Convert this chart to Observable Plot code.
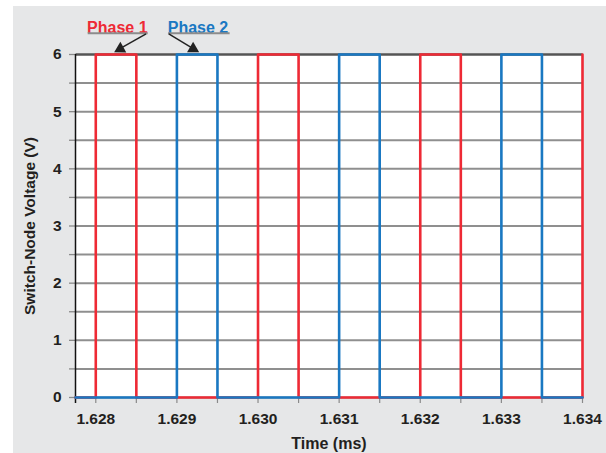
<!DOCTYPE html>
<html>
<head>
<meta charset="utf-8">
<script src="https://cdn.jsdelivr.net/npm/d3@7"></script>
<script src="https://cdn.jsdelivr.net/npm/@observablehq/plot@0.6"></script>
<style>
  html, body { margin: 0; padding: 0; background: #ffffff; }
  #panel { position: absolute; left: 13px; top: 6px; width: 593px; height: 447px; background: #e6e7e8; overflow: hidden; }
</style>
</head>
<body>
<div id="panel"></div>
<script>
// ---- data ----
const xDomain = [1.62775, 1.634];
const yDomain = [0, 6];
const xTickLabels = [1.628, 1.629, 1.630, 1.631, 1.632, 1.633, 1.634];
const xMinorTicks = [1.628, 1.6285, 1.629, 1.6295, 1.630, 1.6305, 1.631, 1.6315, 1.632, 1.6325, 1.633, 1.6335, 1.634];
const yTickLabels = [0, 1, 2, 3, 4, 5, 6];
const yMinorTicks = [0, 0.5, 1, 1.5, 2, 2.5, 3, 3.5, 4, 4.5, 5, 5.5, 6];
const yGridLines = [0.5, 1, 1.5, 2, 2.5, 3, 3.5, 4, 4.5, 5, 5.5];

// Phase 1 switch node (step-after levels)
const phase1Time  = [1.62775, 1.628, 1.6285, 1.630, 1.6305, 1.632, 1.6325, 1.634];
const phase1Volts = [0,       6,     0,      6,     0,      6,     0,      6];
// Phase 2 switch node
const phase2Time  = [1.62775, 1.629, 1.6295, 1.631, 1.6315, 1.633, 1.6335, 1.634];
const phase2Volts = [0,       6,     0,      6,     0,      6,     0,      0];

// annotation labels (data coordinates)
const labelNames = ["Phase 1", "Phase 2"];
const labelColors = ["#ee2a35", "#1a78c2"];
const labelX = [1.628265, 1.62926];
const labelY = [6.47, 6.47];
const underlineX1 = [1.62790, 1.62889];
const underlineX2 = [1.62864, 1.62965];
const underlineY = [6.37, 6.37];
const arrowX1 = [1.62862, 1.62890];
const arrowY1 = [6.36, 6.36];
const arrowX2 = [1.62832, 1.62918];
const arrowY2 = [6.12, 6.12];
const headX = [1.628302, 1.62920];
const headY = [6.10, 6.10];
const headAngle = [-119, 120];

const p1 = phase1Time.map((t, i) => ({t, v: phase1Volts[i]}));
const p2 = phase2Time.map((t, i) => ({t, v: phase2Volts[i]}));
const grid = yGridLines.map(v => ({v}));
const labels = labelNames.map((name, i) => ({
  name, color: labelColors[i], x: labelX[i], y: labelY[i],
  ux1: underlineX1[i], ux2: underlineX2[i], uy: underlineY[i],
  ax1: arrowX1[i], ay1: arrowY1[i], ax2: arrowX2[i], ay2: arrowY2[i],
  hx: headX[i], hy: headY[i], ha: headAngle[i]
}));

const RED = "#ee2a35", BLUE = "#1a78c2", TEXT = "#231f20";

const chart = Plot.plot({
  width: 593,
  height: 447,
  marginLeft: 62,
  marginTop: 48,
  marginRight: 24,
  marginBottom: 56,
  style: {
    fontFamily: "'Liberation Sans', Arial, sans-serif",
    fontSize: "15px",
    fontWeight: "bold",
    color: TEXT,
    background: "transparent",
    overflow: "visible"
  },
  x: { domain: xDomain, label: null },
  y: { domain: yDomain, label: null },
  marks: [
    Plot.frame({ fill: "white", stroke: null }),
    // horizontal grid
    Plot.link(grid, { x1: () => xDomain[0], x2: () => xDomain[1], y1: "v", y2: "v",
                      stroke: "#8f8f8f", strokeWidth: 2 }),
    Plot.link([6], { x1: () => xDomain[0], x2: () => xDomain[1], y1: d => d, y2: d => d,
                     stroke: "#555555", strokeWidth: 2.4 }),
    Plot.link([0], { x1: () => xDomain[0], x2: () => xDomain[1], y1: d => d, y2: d => d,
                     stroke: "#333333", strokeWidth: 1.5 }),
    // y tick marks
    Plot.axisY({ ticks: yMinorTicks, tickSize: 6, tickFormat: () => "", stroke: "#8a8a8a", strokeWidth: 1.3, label: null }),
    // x tick marks and labels
    Plot.axisX({ ticks: xMinorTicks, tickSize: 6, tickFormat: () => "", stroke: "#8a8a8a", strokeWidth: 1.2, label: null }),
    Plot.axisX({ ticks: xTickLabels, tickSize: 0, tickPadding: 15, tickFormat: d3.format(".3f"), fontSize: 15.5, label: null }),
    Plot.axisY({ ticks: yTickLabels, tickSize: 0, tickPadding: 14, tickFormat: d => String(d), fontSize: 15.5,
                 label: "Switch-Node Voltage (V)", labelAnchor: "center", labelOffset: 52, labelArrow: "none" }),
    // left axis line
    Plot.ruleX([xDomain[0]], { stroke: "#111", strokeWidth: 1.5, insetBottom: -6 }),
    // signals
    Plot.line(p1, { x: "t", y: "v", curve: "step-after", stroke: RED, strokeWidth: 2.6 }),
    Plot.line(p2, { x: "t", y: "v", curve: "step-after", stroke: BLUE, strokeWidth: 2.6 }),
    // x axis title
    Plot.text(["Time (ms)"], { frameAnchor: "bottom", dy: 51, fontSize: 16, fill: TEXT }),
    // annotations
    Plot.text(labels, { x: "x", y: "y", text: "name", fill: "color", fontSize: 16 }),
    Plot.link(labels, { x1: "ux1", x2: "ux2", y1: "uy", y2: "uy", stroke: "#8c8c8c", strokeWidth: 2 }),
    Plot.link(labels, { x1: "ax1", y1: "ay1", x2: "ax2", y2: "ay2", stroke: "#222", strokeWidth: 1.5 }),
    Plot.dot(labels, { x: "hx", y: "hy", symbol: "triangle", r: 4.5, rotate: "ha", fill: "#222", stroke: null })
  ]
});

document.getElementById("panel").appendChild(chart);
</script>
</body>
</html>
